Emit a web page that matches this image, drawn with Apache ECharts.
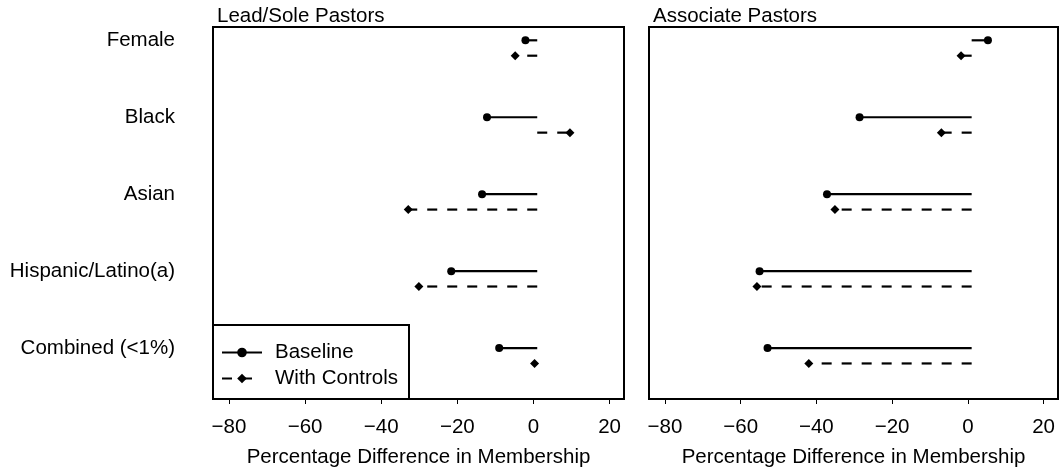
<!DOCTYPE html>
<html>
<head>
<meta charset="utf-8">
<script src="https://cdn.jsdelivr.net/npm/echarts@6/dist/echarts.min.js"></script>
<style>
html,body{margin:0;padding:0;background:#fff;}
#chart{width:1060px;height:470px;}
</style>
</head>
<body>
<div id="chart"></div>
<script>
const categories = ['Female', 'Black', 'Asian', 'Hispanic/Latino(a)', 'Combined (<1%)'];
const leadBaseline = [-2.1, -12.2, -13.5, -21.6, -9.0];
const leadControls = [-4.8, 9.6, -32.9, -30.1, 0.3];
const assocBaseline = [5.3, -28.6, -37.2, -55.0, -52.9];
const assocControls = [-1.8, -7.0, -35.1, -55.7, -42.0];
const xTicks = [-80, -60, -40, -20, 0, 20];
const panelTitles = ['Lead/Sole Pastors', 'Associate Pastors'];
const xTitle = 'Percentage Difference in Membership';
const refValue = 1;

const FONT = 'Liberation Sans, Arial, Helvetica, sans-serif';
const FS = 20.5;
const rowIdx = categories.map((c, i) => i);
const ctrlOffset = 0.2;

function fmtX(v) { return v < 0 ? '\u2212' + Math.abs(v) : String(v); }

function xAxisFor(gi) {
  return {
    type: 'value', gridIndex: gi, min: -84.2, max: 23.8, position: 'bottom',
    name: xTitle, nameLocation: 'middle', nameGap: 48,
    nameTextStyle: { fontFamily: FONT, fontSize: FS, color: '#000' },
    axisLine: { show: false, onZero: false },
    axisTick: { show: true, customValues: xTicks, length: 5, lineStyle: { color: '#000', width: 1 } },
    axisLabel: { customValues: xTicks, formatter: fmtX, fontFamily: FONT, fontSize: FS, color: '#000', margin: 18 },
    splitLine: { show: false }
  };
}
function yAxisFor(gi) {
  return {
    type: 'value', gridIndex: gi, inverse: true, min: -0.173, max: 4.662,
    axisLine: { show: false, onZero: false }, axisTick: { show: false }, splitLine: { show: false },
    axisLabel: {
      show: gi === 0, customValues: rowIdx, margin: 38,
      formatter: v => categories[Math.round(v)],
      fontFamily: FONT, fontSize: FS, color: '#000'
    }
  };
}

const series = [];
function addPanel(gi, base, ctrl) {
  base.forEach((v, i) => {
    series.push({
      type: 'line', name: 'Baseline', xAxisIndex: gi, yAxisIndex: gi,
      symbol: 'circle', symbolSize: 8, showSymbol: true, silent: true, animation: false,
      lineStyle: { color: '#000', width: 2.2 }, itemStyle: { color: '#000' },
      data: [{ value: [refValue, i], symbol: 'none' }, { value: [v, i] }]
    });
  });
  ctrl.forEach((v, i) => {
    series.push({
      type: 'line', name: 'With Controls', xAxisIndex: gi, yAxisIndex: gi,
      symbol: 'diamond', symbolSize: 9, showSymbol: true, silent: true, animation: false,
      lineStyle: { color: '#000', width: 2.2, type: [10, 10] }, itemStyle: { color: '#000' },
      data: [{ value: [refValue, i + ctrlOffset], symbol: 'none' }, { value: [v, i + ctrlOffset] }]
    });
  });
}
addPanel(0, leadBaseline, leadControls);
addPanel(1, assocBaseline, assocControls);

const chart = echarts.init(document.getElementById('chart'), null, { renderer: 'canvas' });
chart.setOption({
  backgroundColor: '#fff',
  animation: false,
  title: [
    { text: panelTitles[0], left: 212, top: 1, textStyle: { fontFamily: FONT, fontSize: FS, fontWeight: 'normal', color: '#000' } },
    { text: panelTitles[1], left: 648, top: 1, textStyle: { fontFamily: FONT, fontSize: FS, fontWeight: 'normal', color: '#000' } }
  ],
  grid: [
    { left: 213, right: 436, top: 27, bottom: 71, show: true, borderColor: '#000', borderWidth: 2, backgroundColor: 'transparent', containLabel: false, outerBoundsMode: 'none' },
    { left: 649, right: 2, top: 27, bottom: 71, show: true, borderColor: '#000', borderWidth: 2, backgroundColor: 'transparent', containLabel: false, outerBoundsMode: 'none' }
  ],
  xAxis: [xAxisFor(0), xAxisFor(1)],
  yAxis: [yAxisFor(0), yAxisFor(1)],
  graphic: [{
    type: 'rect', z: 3, silent: true,
    shape: { x: 213, y: 325, width: 196, height: 74 },
    style: { fill: '#fff', stroke: '#000', lineWidth: 2 }
  }],
  legend: {
    data: ['Baseline', 'With Controls'],
    orient: 'vertical', left: 216, top: 337, z: 5,
    itemWidth: 40, itemHeight: 12, itemGap: 5,
    selectedMode: false,
    textStyle: { fontFamily: FONT, fontSize: FS, color: '#000', padding: [0, 0, 0, 8] }
  },
  series: series
});
</script>
</body>
</html>
